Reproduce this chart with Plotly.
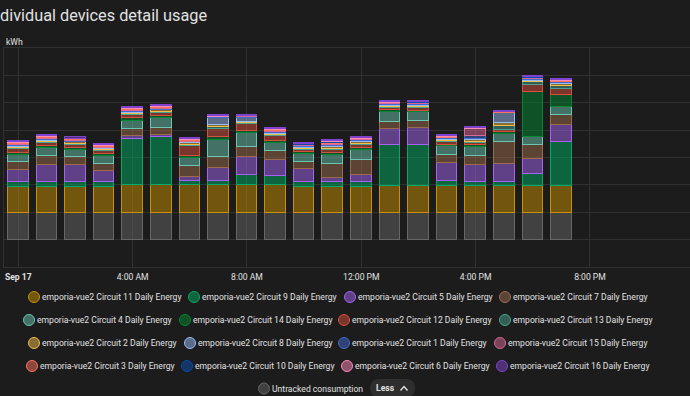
import plotly.graph_objects as go

# ---------------- data ----------------
hours = [
    "2023-09-17 00:00", "2023-09-17 01:00", "2023-09-17 02:00", "2023-09-17 03:00",
    "2023-09-17 04:00", "2023-09-17 05:00", "2023-09-17 06:00", "2023-09-17 07:00",
    "2023-09-17 08:00", "2023-09-17 09:00", "2023-09-17 10:00", "2023-09-17 11:00",
    "2023-09-17 12:00", "2023-09-17 13:00", "2023-09-17 14:00", "2023-09-17 15:00",
    "2023-09-17 16:00", "2023-09-17 17:00", "2023-09-17 18:00", "2023-09-17 19:00",
]

untracked = [0.49, 0.49, 0.49, 0.49, 0.49, 0.49, 0.49, 0.49, 0.49, 0.49,
             0.49, 0.49, 0.49, 0.49, 0.49, 0.49, 0.49, 0.49, 0.49, 0.49]
c11 = [0.47, 0.47, 0.47, 0.47, 0.51, 0.51, 0.51, 0.51, 0.51, 0.51,
       0.48, 0.48, 0.48, 0.49, 0.49, 0.49, 0.49, 0.49, 0.49, 0.49]
c9 = [0.09, 0.09, 0.09, 0.09, 0.84, 0.88, 0.08, 0.08, 0.18, 0.17,
      0.086, 0.086, 0.082, 0.74, 0.75, 0.084, 0.073, 0.073, 0.21, 0.80]
c5 = [0.22, 0.32, 0.32, 0.195, 0.049, 0.031, 0.06, 0.224, 0.334, 0.287,
      0.243, 0.078, 0.133, 0.305, 0.31, 0.341, 0.305, 0.334, 0.287, 0.305]
c7 = [0.146, 0.164, 0.139, 0.128, 0.133, 0.133, 0.201, 0.201, 0.183, 0.17,
      0.128, 0.243, 0.261, 0.12, 0.133, 0.133, 0.164, 0.396, 0.243, 0.183]
c4 = [0.133, 0.139, 0.135, 0.151, 0.151, 0.183, 0.146, 0.323, 0.243, 0.133,
      0.128, 0.164, 0.183, 0.183, 0.151, 0.17, 0.17, 0.151, 0.151, 0.151]
c14 = [0.037, 0.031, 0.031, 0.031, 0.042, 0.031, 0.049, 0.042, 0.042, 0.049,
       0.037, 0.049, 0.037, 0.031, 0.031, 0.024, 0.031, 0.031, 0.821, 0.214]
c12 = [0.062, 0.06, 0.06, 0.06, 0.06, 0.06, 0.183, 0.151, 0.122, 0.078,
       0.049, 0.055, 0.055, 0.042, 0.055, 0.049, 0.042, 0.046, 0.141, 0.122]
c13 = [0.018, 0.018, 0.016, 0.015, 0.018, 0.016, 0.016, 0.031, 0.018, 0.018,
       0.016, 0.018, 0.018, 0.018, 0.015, 0.016, 0.018, 0.058, 0.037, 0.055]
c2 = [0.027, 0.027, 0.024, 0.022, 0.027, 0.026, 0.026, 0.042, 0.027, 0.027,
      0.024, 0.027, 0.037, 0.024, 0.024, 0.024, 0.042, 0.06, 0.027, 0.027]
c8 = [0.018, 0.018, 0.016, 0.015, 0.018, 0.016, 0.016, 0.128, 0.073, 0.018,
      0.016, 0.018, 0.018, 0.018, 0.016, 0.016, 0.018, 0.183, 0.018, 0.018]
c1 = [0.015, 0.015, 0.013, 0.013, 0.015, 0.015, 0.015, 0.009, 0.018, 0.015,
      0.013, 0.018, 0.018, 0.015, 0.013, 0.013, 0.055, 0.005, 0.015, 0.018]
c15 = [0.015, 0.013, 0.013, 0.013, 0.015, 0.013, 0.013, 0.005, 0.009, 0.015,
       0.013, 0.018, 0.018, 0.011, 0.013, 0.013, 0.122, 0.005, 0.018, 0.015]
c3 = [0.015, 0.015, 0.013, 0.011, 0.015, 0.015, 0.015, 0.005, 0.009, 0.015,
      0.013, 0.027, 0.009, 0.011, 0.013, 0.013, 0.005, 0.004, 0.009, 0.009]
c10 = [0.009, 0.007, 0.007, 0.007, 0.009, 0.007, 0.007, 0.004, 0.005, 0.007,
       0.007, 0.007, 0.005, 0.005, 0.007, 0.007, 0.004, 0.002, 0.005, 0.005]
c6 = [0.011, 0.009, 0.009, 0.009, 0.011, 0.009, 0.009, 0.004, 0.004, 0.011,
      0.009, 0.018, 0.009, 0.007, 0.009, 0.009, 0.005, 0.004, 0.013, 0.013]
c16 = [0.024, 0.018, 0.02, 0.018, 0.024, 0.022, 0.022, 0.024, 0.018, 0.024,
       0.02, 0.018, 0.018, 0.018, 0.018, 0.02, 0.018, 0.022, 0.022, 0.022]

tick_vals = ["2023-09-17 00:00", "2023-09-17 04:00", "2023-09-17 08:00",
             "2023-09-17 12:00", "2023-09-17 16:00", "2023-09-17 20:00"]
tick_text = ["<b>Sep 17</b>", "4:00 AM", "8:00 AM", "12:00 PM", "4:00 PM", "8:00 PM"]

# stack order bottom -> top : (name, values, colour, legend row, legend entry width)
series = [
    ("Untracked consumption", untracked, "#666666", "legend5", 100),
    ("emporia-vue2 Circuit 11 Daily Energy", c11, "#c99000", "legend", 115),
    ("emporia-vue2 Circuit 9 Daily Energy", c9, "#01ab63", "legend", 111),
    ("emporia-vue2 Circuit 5 Daily Energy", c5, "#a463f2", "legend", 110),
    ("emporia-vue2 Circuit 7 Daily Energy", c7, "#9c6b4e", "legend", 140),
    ("emporia-vue2 Circuit 4 Daily Energy", c4, "#6cc5b0", "legend2", 111),
    ("emporia-vue2 Circuit 14 Daily Energy", c14, "#048732", "legend2", 114),
    ("emporia-vue2 Circuit 12 Daily Energy", c12, "#d84f3e", "legend2", 116),
    ("emporia-vue2 Circuit 13 Daily Energy", c13, "#49a28f", "legend2", 142),
    ("emporia-vue2 Circuit 2 Daily Energy", c2, "#f4bd4a", "legend3", 111),
    ("emporia-vue2 Circuit 8 Daily Energy", c8, "#97bbf5", "legend3", 109),
    ("emporia-vue2 Circuit 1 Daily Energy", c1, "#4269d0", "legend3", 111),
    ("emporia-vue2 Circuit 15 Daily Energy", c15, "#d96895", "legend3", 142),
    ("emporia-vue2 Circuit 3 Daily Energy", c3, "#ff725c", "legend4", 110),
    ("emporia-vue2 Circuit 10 Daily Energy", c10, "#094bad", "legend4", 115),
    ("emporia-vue2 Circuit 6 Daily Energy", c6, "#ff8ab7", "legend4", 110),
    ("emporia-vue2 Circuit 16 Daily Energy", c16, "#8043ce", "legend4", 142),
]

# ---------------- layout constants ----------------
W, H = 690, 396
ML, MR, MT, MB = 4, 0, 48, 129
PW, PH = W - ML - MR, H - MT - MB
BG = "#1c1c1c"
GRID = "#303030"
TXT = "#e1e1e1"
FONT = "Roboto, sans-serif"
LEG_FS = 8.6


def px_x(px):
    return (px - ML) / PW


def px_y(py):
    return (H - MB - py) / PH


def rgba(hexc, a):
    h = hexc.lstrip("#")
    r, g, b = int(h[0:2], 16), int(h[2:4], 16), int(h[4:6], 16)
    return f"rgba({r},{g},{b},{a})"


fig = go.Figure()

BAR_W = 0.72 * 3600 * 1000  # ms

for name, vals, col, lg, lw in series:
    fig.add_trace(go.Bar(
        x=hours, y=vals, name=name, width=BAR_W,
        marker=dict(color=rgba(col, 0.5), line=dict(color=col, width=1)),
        showlegend=False, hoverinfo="skip",
    ))

# legend-only circle entries, in legend order (row by row)
legend_order = [1, 2, 3, 4, 5, 6, 7, 8, 9, 10, 11, 12, 13, 14, 15, 16, 0]
for i in legend_order:
    name, vals, col, lg, lw = series[i]
    fig.add_trace(go.Scatter(
        x=[None], y=[None], mode="markers", name=name, legend=lg,
        legendwidth=lw,
        marker=dict(symbol="circle", size=11, color=rgba(col, 0.5),
                    angle=90, standoff=12,
                    line=dict(color=col, width=1)),
        showlegend=True, hoverinfo="skip",
    ))


def legend_cfg(left_px, row_px):
    return dict(
        orientation="h", x=px_x(left_px), xanchor="left",
        y=px_y(row_px), yanchor="middle",
        font=dict(family=FONT, size=LEG_FS, color=TXT),
        bgcolor="rgba(0,0,0,0)", borderwidth=0,
        itemclick=False, itemdoubleclick=False, traceorder="normal",
    )


# pill shape for the "Less" button
x0, x1 = px_x(370), px_x(415)
yt, yb = px_y(379), px_y(397)
rx, ry = 9 / PW, 9 / PH
pill = (f"M {x0+rx},{yt} L {x1-rx},{yt} Q {x1},{yt} {x1},{yt-ry} "
        f"L {x1},{yb+ry} Q {x1},{yb} {x1-rx},{yb} L {x0+rx},{yb} "
        f"Q {x0},{yb} {x0},{yb+ry} L {x0},{yt-ry} Q {x0},{yt} {x0+rx},{yt} Z")
chev = (f"M {px_x(400.5)},{px_y(390.5)} L {px_x(404)},{px_y(386.5)} "
        f"L {px_x(407.5)},{px_y(390.5)}")

fig.update_layout(
    width=W, height=H,
    margin=dict(l=ML, r=MR, t=MT, b=MB, autoexpand=False),
    paper_bgcolor=BG, plot_bgcolor=BG,
    barmode="stack", bargap=0,
    font=dict(family=FONT, size=8.6, color=TXT),
    xaxis=dict(
        type="date",
        range=["2023-09-16 23:30", "2023-09-17 23:30"],
        tickvals=tick_vals, ticktext=tick_text,
        showgrid=True, gridcolor=GRID, gridwidth=1,
        showline=True, linecolor=GRID, linewidth=1, mirror=True,
        ticks="", ticklabelstandoff=2,
        tickfont=dict(family=FONT, size=8.6, color=TXT),
        zeroline=False, fixedrange=True,
    ),
    yaxis=dict(
        range=[-0.5, 3.5], dtick=0.5, tick0=0,
        showgrid=True, gridcolor=GRID, gridwidth=1,
        showline=True, linecolor=GRID, linewidth=1,
        showticklabels=False, ticks="", zeroline=False, fixedrange=True,
    ),
    legend=legend_cfg(2, 297),
    legend2=legend_cfg(-3, 320),
    legend3=legend_cfg(2, 343),
    legend4=legend_cfg(0, 366),
    legend5=legend_cfg(232, 388.5),
    annotations=[
        dict(text="dividual devices detail usage", xref="paper", yref="paper",
             x=px_x(-2), y=px_y(15), xanchor="left", yanchor="middle",
             showarrow=False, font=dict(family=FONT, size=16.3, color=TXT)),
        dict(text="kWh", xref="paper", yref="paper",
             x=px_x(4), y=px_y(42), xanchor="left", yanchor="middle",
             showarrow=False, font=dict(family=FONT, size=8.6, color=TXT)),
        dict(text="<b>Less</b>", xref="paper", yref="paper",
             x=px_x(374), y=px_y(388), xanchor="left", yanchor="middle",
             showarrow=False, font=dict(family=FONT, size=8.6, color=TXT)),
    ],
    shapes=[
        dict(type="path", path=pill, xref="paper", yref="paper",
             fillcolor="#2e2e2e", line=dict(width=0), layer="above"),
        dict(type="path", path=chev, xref="paper", yref="paper",
             line=dict(color=TXT, width=1.4), layer="above"),
    ],
)

fig.write_html(
    "out.html",
    config={"displayModeBar": False},
    post_script=("document.body.style.margin='0px';"
                 "document.body.style.padding='0px';"
                 "document.body.style.overflow='hidden';"
                 "document.body.style.backgroundColor='#1c1c1c';"),
)
